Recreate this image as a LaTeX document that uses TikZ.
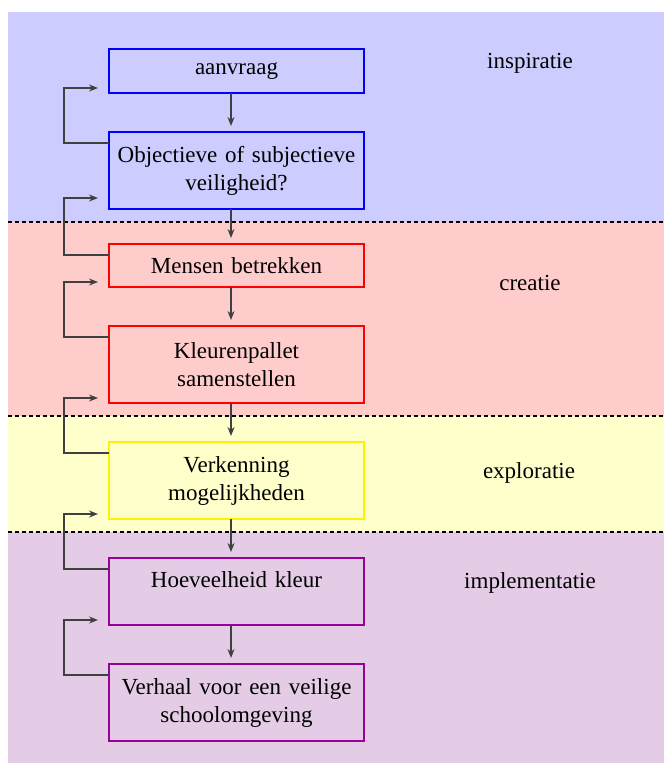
\documentclass[tikz,border=0pt]{standalone}
\usepackage{fontspec}
\setmainfont{Liberation Serif}
\usetikzlibrary{positioning,arrows.meta}
\definecolor{bandblue}{RGB}{204,204,255}
\definecolor{bandred}{RGB}{255,204,204}
\definecolor{bandyellow}{RGB}{255,255,204}
\definecolor{bandpurple}{RGB}{228,204,230}
\definecolor{linepurple}{RGB}{153,0,153}
\definecolor{arrowgray}{RGB}{64,64,64}
\tikzset{
stage/.style={rectangle,draw,line width=1.5pt,inner sep=0pt,outer sep=0pt,text width=255pt,
  align=center,minimum height=44pt,font=\fontsize{23}{28}\selectfont},
tall/.style={minimum height=77pt},
phase/.style={font=\fontsize{23}{28}\selectfont},
separator/.style={line width=1.2pt,dash pattern=on 4pt off 3pt},
flow/.style={-{Stealth[length=9pt,width=7pt]},line width=1.3pt,draw=arrowgray,shorten >=6pt},
feedback/.style={-{Stealth[length=9pt,width=7pt]},line width=1.3pt,draw=arrowgray},
}

\begin{document}
\begin{tikzpicture}[x=1pt,y=-1pt]
\useasboundingbox (0,0) rectangle (664,763);
\fill[bandblue] (8,12) rectangle (664,222);
\fill[bandred] (8,222) rectangle (664,416);
\fill[bandyellow] (8,416) rectangle (664,532);
\fill[bandpurple] (8,532) rectangle (664,763);
\draw[separator] (8,222) -- (664,222);
\draw[separator] (8,416) -- (664,416);
\draw[separator] (8,532) -- (664,532);

\node[stage,draw=blue] (aanvraag) at (236.5,71) {aanvraag};
\node[stage,tall,draw=blue,below=39pt of aanvraag] (veiligheid) {Objectieve of subjectieve\\veiligheid?};
\node[stage,draw=red,minimum height=43pt,below=35pt of veiligheid] (mensen) {Mensen betrekken};
\node[stage,tall,draw=red,below=39pt of mensen] (pallet) {Kleurenpallet\\samenstellen};
\node[stage,tall,draw=yellow,below=39pt of pallet] (verkenning) {Verkenning\\mogelijkheden};
\node[stage,draw=linepurple,minimum height=67pt,text height=29pt,text depth=38pt,
  below=39pt of verkenning] (hoeveelheid) {Hoeveelheid kleur};
\node[stage,tall,draw=linepurple,below=39pt of hoeveelheid] (verhaal) {Verhaal voor een veilige\\schoolomgeving};

\node[phase] (inspiratie) at (530,63) {inspiratie};
\node[phase] (creatie) at (530,283) {creatie};
\node[phase] (exploratie) at (529,473) {exploratie};
\node[phase] (implementatie) at (530,583) {implementatie};

\foreach \from/\to in {aanvraag/veiligheid,veiligheid/mensen,mensen/pallet,
  pallet/verkenning,verkenning/hoeveelheid,hoeveelheid/verhaal}
  \draw[flow] ([xshift=-5.5pt]\from.south) -- ([xshift=-5.5pt]\to.north);

\foreach \from/\to/\up in {veiligheid/aanvraag/5,mensen/veiligheid/11,pallet/mensen/5,
  verkenning/pallet/5,hoeveelheid/verkenning/5,verhaal/hoeveelheid/5}
  \draw[feedback] ([yshift=-11pt]\from.north west) -- ++(-45,0)
    |- ([xshift=-11pt,yshift=\up pt]\to.south west);
\end{tikzpicture}
\end{document}
